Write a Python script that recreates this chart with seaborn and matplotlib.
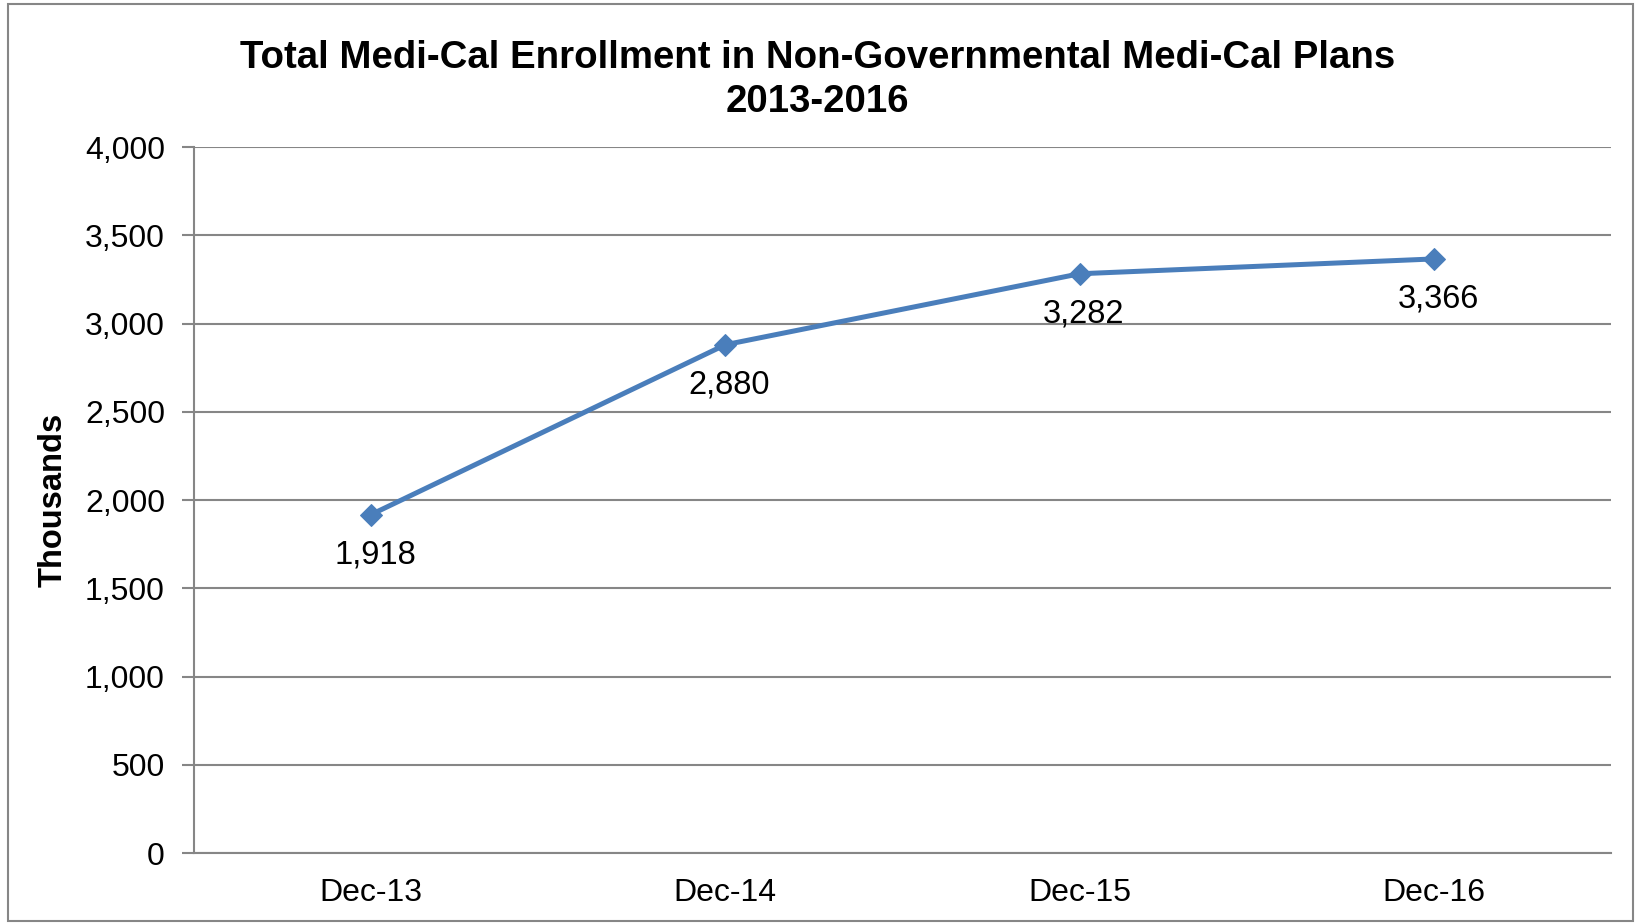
import numpy as np
import pandas as pd
import matplotlib
matplotlib.use("Agg")
import matplotlib.pyplot as plt
import seaborn as sns
from matplotlib.patches import Rectangle
from matplotlib.ticker import FuncFormatter, FixedLocator

# data
periods = ["Dec-13", "Dec-14", "Dec-15", "Dec-16"]
enrollment = [1918, 2880, 3282, 3366]  # thousands
y_ticks = [0, 500, 1000, 1500, 2000, 2500, 3000, 3500, 4000]

df = pd.DataFrame({"period": periods, "enrollment": enrollment})

sns.set_style("white")
plt.rcParams["font.family"] = ["Liberation Sans", "DejaVu Sans"]
plt.rcParams["text.color"] = "black"
plt.rcParams["axes.labelcolor"] = "black"
plt.rcParams["xtick.labelcolor"] = "black"
plt.rcParams["ytick.labelcolor"] = "black"

fig = plt.figure(figsize=(16.35, 9.23), dpi=100)
ax = fig.add_axes([0.1187, 0.0758, 0.8666, 0.7649])

line_color = "#4A7EBB"
grid_color = "#868686"

sns.lineplot(data=df, x="period", y="enrollment", ax=ax, color=line_color,
             linewidth=3.6, marker="D", markersize=11, markeredgecolor=line_color,
             sort=False)

for i, v in enumerate(enrollment):
    ax.annotate(f"{v:,}", xy=(i, v), xytext=(3, -29), textcoords="offset points",
                ha="center", va="center", fontsize=23.5)

ax.set_xlim(-0.5, len(periods) - 0.5)
ax.set_ylim(0, 4000)
ax.set_yticks(y_ticks)
ax.yaxis.set_major_formatter(FuncFormatter(lambda v, p: f"{int(v):,}"))
ax.set_xticks(range(len(periods)))
ax.set_xticklabels(periods)
ax.xaxis.set_minor_locator(FixedLocator(np.arange(-0.5, len(periods), 1.0)))

ax.tick_params(axis="x", which="major", length=0, pad=18, labelsize=23)
ax.tick_params(axis="x", which="minor", length=8, width=1.5, color=grid_color)
ax.tick_params(axis="y", length=9, width=1.5, color=grid_color, pad=12, labelsize=23,
               left=True)

ax.grid(axis="y", color=grid_color, linewidth=1.5)
ax.grid(axis="x", visible=False)
for side in ["top", "right"]:
    ax.spines[side].set_visible(False)
for side in ["left", "bottom"]:
    ax.spines[side].set_color(grid_color)
    ax.spines[side].set_linewidth(1.5)

ax.set_xlabel("")
ax.set_ylabel("Thousands", fontsize=23.5, fontweight="bold", labelpad=12)

fig.text(0.5, 0.913, "Total Medi-Cal Enrollment in Non-Governmental Medi-Cal Plans\n2013-2016",
         ha="center", va="center", fontsize=27.6, fontweight="bold", linespacing=1.29)

# outer chart border
fig.patches.append(Rectangle((8 / 1635, 0.002), 1 - 8 / 1635 - 0.001, 1 - 4 / 923 - 0.002,
                             transform=fig.transFigure, fill=False,
                             edgecolor=grid_color, linewidth=1.5))

fig.savefig("out.png", dpi=100)
